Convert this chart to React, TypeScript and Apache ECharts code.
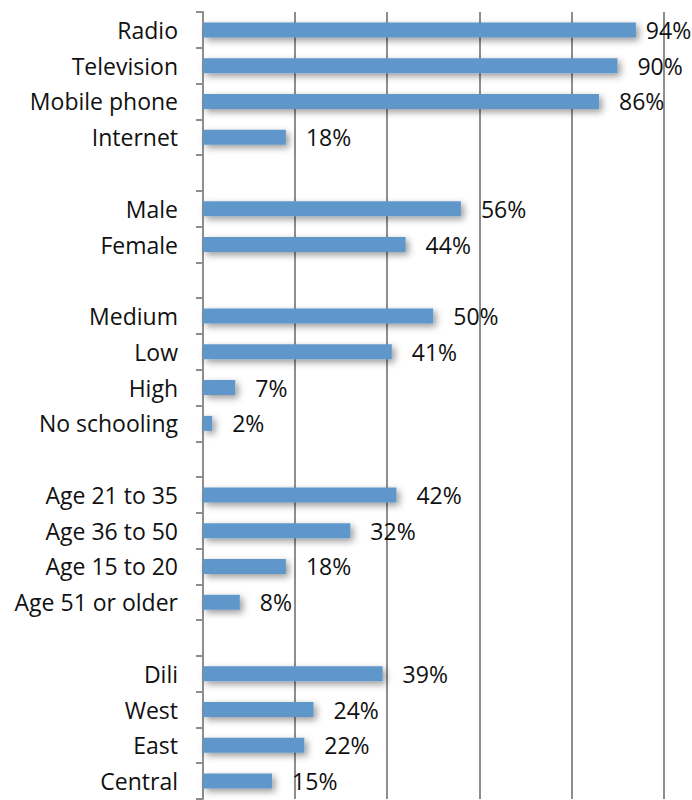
import React, { useEffect, useRef } from "react";
import * as echarts from "echarts";

const categories = [
  "Radio", "Television", "Mobile phone", "Internet", " ",
  "Male", "Female", "  ",
  "Medium", "Low", "High", "No schooling", "   ",
  "Age 21 to 35", "Age 36 to 50", "Age 15 to 20", "Age 51 or older", "    ",
  "Dili", "West", "East", "Central",
];
const values: (number | null)[] = [
  94, 90, 86, 18, null,
  56, 44, null,
  50, 41, 7, 2, null,
  42, 32, 18, 8, null,
  39, 24, 22, 15,
];
const xTicks = { min: 0, max: 100, interval: 20 };

const FONT = "'Open Sans', sans-serif";
const GRID = "#8e8e8e";

export default function App() {
  const ref = useRef<HTMLDivElement>(null);
  useEffect(() => {
    if (!ref.current) return;
    const chart = echarts.init(ref.current, undefined, { renderer: "svg" });
    const data = values.map((v, i) =>
      i === 0 ? { value: v, label: { distance: 10 } } : { value: v }
    );
    chart.setOption({
      animation: false,
      grid: { left: 203, right: 28.5, top: 12, bottom: 1, containLabel: false },
      xAxis: {
        type: "value",
        min: xTicks.min,
        max: xTicks.max,
        interval: xTicks.interval,
        axisLabel: { show: false },
        axisLine: { show: false },
        axisTick: { show: false },
        splitLine: { show: true, lineStyle: { color: GRID, width: 2 } },
      },
      yAxis: {
        type: "category",
        data: categories,
        inverse: true,
        axisLine: { show: true, lineStyle: { color: GRID, width: 2 } },
        axisTick: { show: true, length: 7, lineStyle: { color: GRID, width: 2 } },
        axisLabel: {
          margin: 25,
          color: "#111",
          fontSize: 23,
          fontFamily: FONT,
          padding: [5, 0, 0, 0],
        },
        splitLine: { show: false },
      },
      series: [
        {
          type: "bar",
          data,
          barWidth: 15,
          itemStyle: {
            color: "#5f97cb",
            shadowColor: "rgba(0,0,0,0.4)",
            shadowBlur: 7,
            shadowOffsetX: 3,
            shadowOffsetY: 3,
          },
          label: {
            show: true,
            position: "right",
            distance: 20,
            formatter: (p: any) => (p.value == null ? "" : p.value + "%"),
            color: "#111",
            fontSize: 23,
            fontFamily: FONT,
            padding: [5, 0, 0, 0],
          },
        },
      ],
    });
    return () => chart.dispose();
  }, []);
  return (
    <div
      ref={ref}
      style={{ position: "fixed", left: 0, top: 0, width: 692, height: 800, background: "#fff" }}
    />
  );
}
